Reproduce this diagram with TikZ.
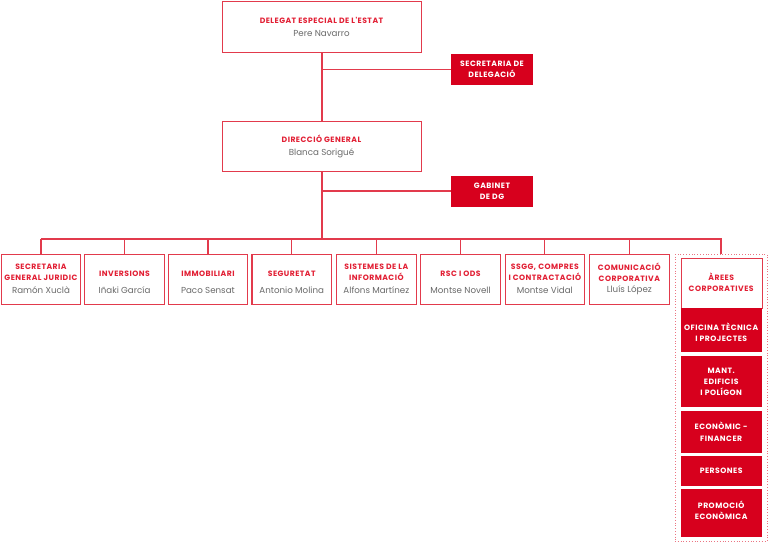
\documentclass[tikz,border=0pt]{standalone}
\usepackage{fontspec}
\setmainfont{Poppins}
\newfontfamily\ttlfont[LetterSpace=6]{Poppins}
\definecolor{boxred}{HTML}{D7001D}
\definecolor{linered}{HTML}{E23A4C}
\definecolor{txtred}{HTML}{E21F34}
\definecolor{txtgray}{HTML}{6A6A6A}
\tikzset{
  conn/.style={draw=linered, line width=1.2pt},
  wbox/.style={draw=linered, line width=1.2pt, fill=white},
  rbox/.style={fill=boxred, draw=none},
  ttl/.style={font=\ttlfont\fontsize{7.7}{11.3}\selectfont\bfseries, text=txtred, align=center, inner sep=0pt},
  wttl/.style={font=\ttlfont\fontsize{7.7}{11.3}\selectfont\bfseries, text=white, align=center, inner sep=0pt},
  nm/.style={font=\fontsize{8.7}{9}\selectfont, text=txtgray, align=center, inner sep=0pt},
  grp/.style={draw=linered!70, line width=0.8pt, dotted},
}
\begin{document}
\begin{tikzpicture}[x=1pt,y=-1pt]
\useasboundingbox (0,0) rectangle (768,542);
% top level
\node[wbox, minimum width=199pt, minimum height=50.5pt, anchor=north west] (top) at (222,1) {};
\node[ttl] (toptl) at (321.5,20) {DELEGAT ESPECIAL DE L'ESTAT};
\node[nm] (topnm) at (321.5,33.5) {Pere Navarro};
\node[rbox, minimum width=82pt, minimum height=31pt, anchor=north west] (sec) at (451,54) {};
\node[wttl] (sectl) at (492,69.2) {SECRETARIA DE\\DELEGACIÓ};
\node[wbox, minimum width=199pt, minimum height=50.5pt, anchor=north west] (dg) at (222,120.5) {};
\node[ttl] (dgtl) at (321.5,138.5) {DIRECCIÓ GENERAL};
\node[nm] (dgnm) at (321.5,152.8) {Blanca Sorigué};
\node[rbox, minimum width=82pt, minimum height=31pt, anchor=north west] (gab) at (451,176) {};
\node[wttl] (gabtl) at (492,191) {GABINET\\DE DG};
% connectors top
\coordinate (bus) at (322,239);
\coordinate (j1) at (322,69.5);
\coordinate (j2) at (322,191);
\draw[conn] (top.south -| bus) -- (dg.north -| bus);
\draw[conn] (dg.south -| bus) -- (bus);
\draw[conn] (j1) -- (sec.west |- j1);
\draw[conn] (j2) -- (gab.west |- j2);
% bottom row
\foreach \i/\x/\t/\n/\l in {
  b1/0.6/{SECRETARIA\\GENERAL JURIDIC}/{Ramón Xuclà}/2,
  b2/84.2/{INVERSIONS}/{Iñaki García}/1,
  b3/167.6/{IMMOBILIARI}/{Paco Sensat}/1,
  b4/251.4/{SEGURETAT}/{Antonio Molina}/1,
  b5/336/{SISTEMES DE LA\\INFORMACIÓ}/{Alfons Martínez}/2,
  b6/420.2/{RSC I ODS}/{Montse Novell}/1,
  b7/504.5/{SSGG, COMPRES\\I CONTRACTACIÓ}/{Montse Vidal}/2,
  b8/589/{COMUNICACIÓ\\CORPORATIVA}/{Lluís López}/2}{
  \node[wbox, minimum width=79.5pt, minimum height=50.5pt, anchor=north west] (\i) at (\x,253.5) {};
  \ifnum\l=1
    \node[ttl] (\i t) at (\i.north |- 0,273.3) {\t};
  \else
    \node[ttl] (\i t) at (\i.north |- 0,272.5) {\t};
  \fi
  \node[nm] (\i n) at (\i.north |- 0,290.2) {\n};
  \draw[conn] (\i.north) -- (\i.north |- bus);
}
% areas group
\node[grp, minimum width=92pt, minimum height=287pt, anchor=north west] (grp) at (674.5,254) {};
\coordinate (ad) at (721,239);
\draw[conn] (b1.north |- bus) -- (ad) -- (ad |- grp.north);
\node[wbox, minimum width=80.5pt, minimum height=50pt, anchor=north west] (ar) at (681,258) {};
\node[ttl] (art) at (721.2,282.2) {ÀREES\\CORPORATIVES};
\node[rbox, minimum width=81.5pt, minimum height=44pt, anchor=north west] (a1) at (680.5,308) {};
\node[wttl] (a1t) at (721.2,332) {OFICINA TÈCNICA\\I PROJECTES};
\node[rbox, minimum width=81.5pt, minimum height=50.5pt, anchor=north west] (a2) at (680.5,356) {};
\node[wttl] (a2t) at (721.2,381.7) {MANT.\\EDIFICIS\\I POLÍGON};
\node[rbox, minimum width=81.5pt, minimum height=41.5pt, anchor=north west] (a3) at (680.5,411) {};
\node[wttl] (a3t) at (721.2,431.7) {ECONÒMIC -\\FINANCER};
\node[rbox, minimum width=81.5pt, minimum height=30pt, anchor=north west] (a4) at (680.5,456) {};
\node[wttl] (a4t) at (721.2,470.7) {PERSONES};
\node[rbox, minimum width=81.5pt, minimum height=47.5pt, anchor=north west] (a5) at (680.5,489) {};
\node[wttl] (a5t) at (721.2,510.5) {PROMOCIÓ\\ECONÒMICA};
\end{tikzpicture}
\end{document}
